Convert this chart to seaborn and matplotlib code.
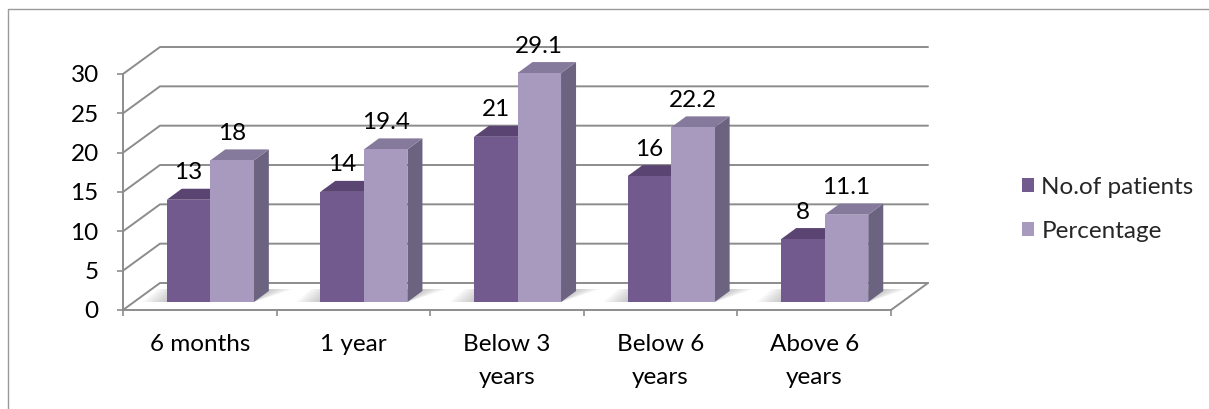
import matplotlib
matplotlib.use("Agg")
import matplotlib.pyplot as plt
import matplotlib.transforms as mtransforms
from matplotlib.patches import Polygon, Patch
from matplotlib.lines import Line2D
import seaborn as sns
import pandas as pd

categories = ["6 months", "1 year", "Below 3\nyears", "Below 6\nyears", "Above 6\nyears"]
patients = [13, 14, 21, 16, 8]
percentage = [18, 19.4, 29.1, 22.2, 11.1]
series = ["No.of patients", "Percentage"]
yticks = [0, 5, 10, 15, 20, 25, 30]

sns.set_theme(style="white")
plt.rcParams['font.family'] = ['Lato', 'DejaVu Sans']
FS = 17.5
GRAY = "#8c8c8c"

W, H = 1209, 409
fig = plt.figure(figsize=(W / 100, H / 100), dpi=100)
ax = fig.add_axes([123 / W, 99 / H, 768 / W, 236 / H])

df = pd.DataFrame({
    "cat": categories * 2,
    "series": [series[0]] * len(categories) + [series[1]] * len(categories),
    "value": patients + percentage,
})
front = {series[0]: "#725A8F", series[1]: "#A899BF"}
tops = {series[0]: "#5A4472", series[1]: "#857A9B"}
sides = {series[0]: "#4F3D63", series[1]: "#6B6380"}

sns.barplot(data=df, x="cat", y="value", hue="series", order=categories,
            hue_order=series, palette=front, width=0.567, gap=0, legend=False,
            ax=ax, saturation=1, zorder=3, edgecolor="none", linewidth=0)

ax.set_xlim(-0.5, len(categories) - 0.5)
ax.set_ylim(0, 30)
px_x = 768 / len(categories)
px_y = 236 / 30

# shift bars into the middle of the 3D depth
off = mtransforms.ScaledTranslation(10.5 / 100, 8 / 100, fig.dpi_scale_trans)
bar_tr = ax.transData + off
ddx, ddy = 15 / px_x, 11 / px_y
lab_tr = bar_tr + mtransforms.ScaledTranslation(0, 27 / 100, fig.dpi_scale_trans)

bars = list(ax.patches)
n = len(categories)
for i, p in enumerate(bars):
    s = series[0] if i < n else series[1]
    p.set_transform(bar_tr)
    p.set_clip_on(False)
    x0, w, h = p.get_x(), p.get_width(), p.get_height()
    top = Polygon([(x0, h), (x0 + w, h), (x0 + w + ddx, h + ddy), (x0 + ddx, h + ddy)],
                  closed=True, facecolor=tops[s], edgecolor="none", zorder=2.6,
                  transform=bar_tr, clip_on=False)
    side = Polygon([(x0 + w, 0), (x0 + w + ddx, ddy), (x0 + w + ddx, h + ddy), (x0 + w, h)],
                   closed=True, facecolor=sides[s], edgecolor="none", zorder=2.5,
                   transform=bar_tr, clip_on=False)
    ax.add_patch(side)
    ax.add_patch(top)
    ax.text(x0 + w / 2, h, f"{h:g}", transform=lab_tr, ha="center", va="center",
            fontsize=FS, color="black", zorder=5, clip_on=False)

# soft floor shadows behind each pair of bars
for k in range(n):
    left = bars[k].get_x()
    right = bars[k + n].get_x() + bars[k + n].get_width() + ddx
    for e in range(24, 0, -3):
        ex = e / px_x
        ax.add_patch(Polygon([(left - ex, 0), (right - ddx, 0),
                              (right + ex, ddy + 0.25), (left + ddx - ex, ddy + 0.25)],
                             closed=True, facecolor="#707070", edgecolor="none",
                             alpha=0.05, zorder=1.5, transform=bar_tr, clip_on=False))

# back wall / side wall gridlines and floor
dX, dY = 37 / px_x, 27 / px_y
xl, xr = -0.5, len(categories) - 0.5
for v in yticks:
    ax.add_line(Line2D([xl, xl + dX, xr + dX], [v, v + dY, v + dY], color=GRAY,
                       lw=1.4, zorder=1, clip_on=False))
ax.add_line(Line2D([xr, xr + dX], [0, dY], color=GRAY, lw=1.4, zorder=1, clip_on=False))

# axes styling
for sp in ["top", "right"]:
    ax.spines[sp].set_visible(False)
for sp in ["left", "bottom"]:
    ax.spines[sp].set_color(GRAY)
    ax.spines[sp].set_linewidth(1.4)
ax.set_yticks(yticks)
ax.set_yticklabels([str(t) for t in yticks], fontsize=FS, color="black")
ax.tick_params(axis="y", which="major", left=True, length=4.5, width=1.2, color=GRAY, pad=13)
ax.set_xticks(range(n))
ax.set_xticklabels(categories, fontsize=FS, color="black", linespacing=1.75)
ax.set_xticks([k - 0.5 for k in range(n + 1)], minor=True)
ax.tick_params(axis="x", which="major", bottom=False, length=0, pad=17)
ax.tick_params(axis="x", which="minor", bottom=True, length=4.5, width=1.2, color=GRAY)
ax.set_xlabel("")
ax.set_ylabel("")
ax.set_facecolor("none")

# outer frame
fig.add_artist(Line2D([7.5 / W, 7.5 / W, 1.0], [0, 1 - 9 / H, 1 - 9 / H],
                      transform=fig.transFigure, color="#9a9a9a", lw=1.0))

handles = [Patch(facecolor=front[s], edgecolor="none") for s in series]
fig.legend(handles, series, loc="center left",
           bbox_to_anchor=(1022 / W, 199.5 / H), bbox_transform=fig.transFigure,
           frameon=False, fontsize=FS, handlelength=0.5, handleheight=0.5,
           handletextpad=0.3, labelspacing=0.95, borderpad=0, borderaxespad=0)

fig.savefig("out.png", dpi=100)
